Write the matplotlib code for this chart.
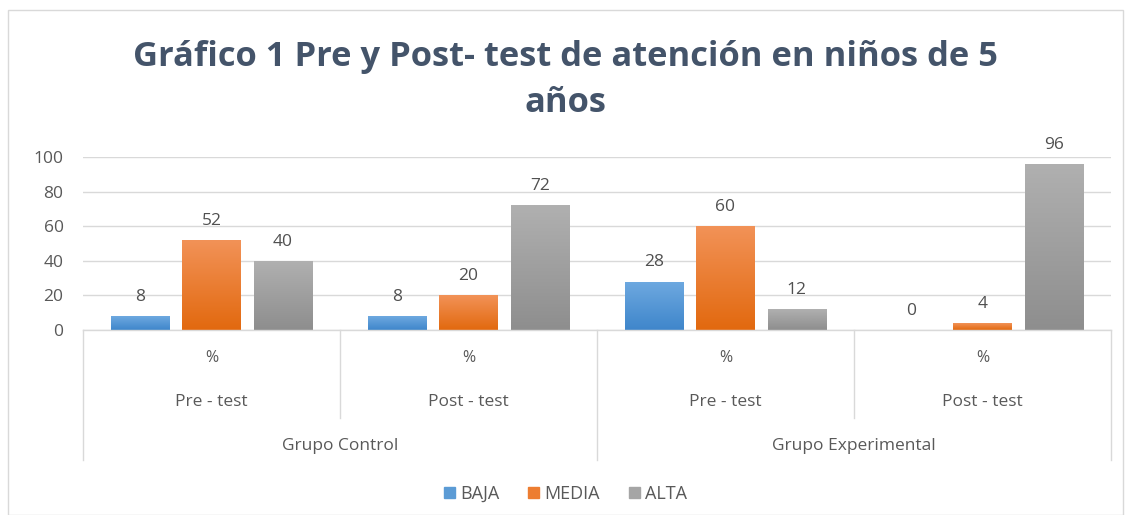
import numpy as np
import matplotlib
matplotlib.use("Agg")
import matplotlib.pyplot as plt
from matplotlib.colors import LinearSegmentedColormap
import matplotlib.transforms as mtransforms
from matplotlib.patches import Rectangle

plt.rcParams['font.family'] = ['Open Sans', 'DejaVu Sans']

title = "Gráfico 1 Pre y Post- test de atención en niños de 5\naños"
level1 = ["%", "%", "%", "%"]
level2 = ["Pre - test", "Post - test", "Pre - test", "Post - test"]
level3 = ["Grupo Control", "Grupo Experimental"]
series_names = ["BAJA", "MEDIA", "ALTA"]
baja = [8, 8, 28, 0]
media = [52, 20, 60, 4]
alta = [40, 72, 12, 96]
yticks = [0, 20, 40, 60, 80, 100]

grad = {
    "BAJA": ("#6EA9E0", "#3F86CB"),
    "MEDIA": ("#F29257", "#E2690F"),
    "ALTA": ("#B0B0B0", "#8E8E8E"),
}
solid = {"BAJA": "#5B9BD5", "MEDIA": "#ED7D31", "ALTA": "#A5A5A5"}

fig = plt.figure(figsize=(11.31, 5.15), dpi=100)
ax = fig.add_axes([83/1131, 1-330/515, (1111-83)/1131, 173/515])

x = np.arange(len(level1)) + 0.5
offsets = [-0.278, 0.0, 0.277]
width = 0.226
txtc = "#595959"
fs = 12.5

for name, vals, off in zip(series_names, [baja, media, alta], offsets):
    bars = ax.bar(x + off, vals, width, color=solid[name], zorder=2, label=name)
    cmap = LinearSegmentedColormap.from_list(name, [grad[name][1], grad[name][0]])
    for b, v in zip(bars, vals):
        if v > 0:
            bx, by = b.get_x(), b.get_y()
            bw, bh = b.get_width(), b.get_height()
            im = ax.imshow(np.linspace(0, 1, 100).reshape(-1, 1), cmap=cmap,
                           extent=[bx, bx + bw, by, by + bh], origin='lower',
                           aspect='auto', zorder=2.5)
            im.set_clip_path(b)
        ax.annotate(f"{v}", (b.get_x() + b.get_width()/2, v), xytext=(0, 8),
                    textcoords="offset points", ha="center", va="bottom",
                    fontsize=fs, color="#505050")

ax.set_xlim(0, 4)
ax.set_ylim(0, 100)
ax.set_yticks(yticks)
ax.set_yticklabels([str(t) for t in yticks], fontsize=fs, color=txtc)
ax.tick_params(axis='y', length=0, pad=14)
ax.tick_params(axis='x', length=0, labelbottom=False)
ax.grid(axis='y', color="#D9D9D9", linewidth=1, zorder=0)
ax.set_axisbelow(True)
for s in ax.spines.values():
    s.set_visible(False)

trans = mtransforms.blended_transform_factory(ax.transData, ax.transAxes)
lc = "#D9D9D9"
ax.plot([0, 4], [0, 0], transform=trans, color=lc, lw=1, clip_on=False, zorder=3)
for xs, ye in [(0, -0.751), (1, -0.509), (2, -0.751), (3, -0.509), (4, -0.751)]:
    ax.plot([xs, xs], [0, ye], transform=trans, color=lc, lw=1, clip_on=False)
for i in range(4):
    ax.text(x[i], -0.162, level1[i], transform=trans, ha='center', va='center',
            fontsize=11.5, color=txtc)
    ax.text(x[i], -0.416, level2[i], transform=trans, ha='center', va='center',
            fontsize=fs, color=txtc)
for i, lab in enumerate(level3):
    ax.text(1 + 2*i, -0.671, lab, transform=trans, ha='center', va='center',
            fontsize=fs, color=txtc)

fig.text(0.5, 1-80/515, title, ha='center', va='center', fontsize=24.8,
         fontweight='bold', color="#44546A", linespacing=1.45)

handles = [Rectangle((0, 0), 1, 1, color=solid[n]) for n in series_names]
fig.legend(handles, series_names, loc='center', bbox_to_anchor=(0.5, 1-494/515),
           ncol=3, frameon=False, fontsize=13, handlelength=0.6, handleheight=0.6,
           handletextpad=0.3, columnspacing=1.6, labelcolor=txtc)

fig.patches.append(Rectangle((8/1131, 0), 1115/1131, 1-10/515, transform=fig.transFigure,
                             fill=False, edgecolor="#D9D9D9", lw=1))

fig.savefig("out.png", dpi=100, facecolor="white")
